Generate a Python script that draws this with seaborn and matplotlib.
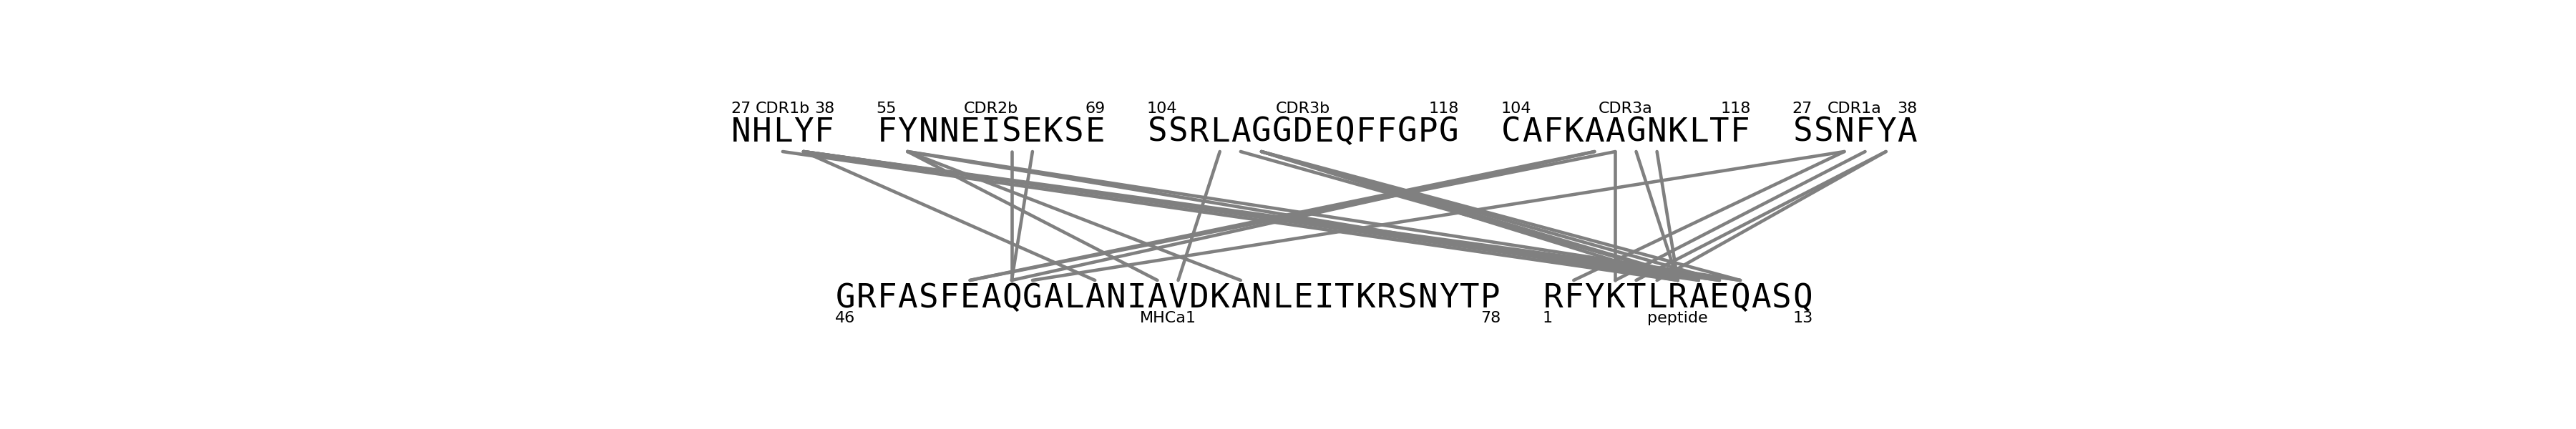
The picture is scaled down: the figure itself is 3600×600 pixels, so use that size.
import numpy as np
import pandas as pd
import seaborn as sns
import matplotlib
matplotlib.use("Agg")
import matplotlib.pyplot as plt

# sequence segments: (name, sequence, start residue, end residue, column offset)
top_names = ["CDR1b", "CDR2b", "CDR3b", "CDR3a", "CDR1a"]
top_seqs = ["NHLYF", "FYNNEISEKSE", "SSRLAGGDEQFFGPG", "CAFKAAGNKLTF", "SSNFYA"]
top_start = [27, 55, 104, 104, 27]
top_end = [38, 69, 118, 118, 38]
top_offset = [0, 7, 20, 37, 51]

bot_names = ["MHCa1", "peptide"]
bot_seqs = ["GRFASFEAQGALANIAVDKANLEITKRSNYTP", "RFYKTLRAEQASQ"]
bot_start = [46, 1]
bot_end = [78, 13]
bot_offset = [5, 39]

# contacts: top column -> bottom column
link_top = [2, 3, 3, 3, 3, 3, 8, 8, 8, 8, 13, 14, 23, 24, 25, 25, 25, 25,
            41, 41, 42, 42, 43, 44, 53, 53, 54, 55, 55]
link_bot = [45, 17, 46, 47, 48, 47, 20, 24, 48, 45, 13, 13, 21, 46, 45, 46, 47, 48,
            11, 13, 11, 42, 45, 45, 14, 40, 42, 43, 44]

Y_TOP, Y_BOT = 185, 418
Y_TOP_LINK, Y_BOT_LINK = 212, 392
Y_TOP_LAB, Y_BOT_LAB = 152, 445

sns.set_theme(style="white")
fig = plt.figure(figsize=(36, 6), dpi=100)
ax = fig.add_axes([0, 0, 1, 1])

rows = []
for k, (t, b) in enumerate(zip(link_top, link_bot)):
    rows.append({"x": t, "y": Y_TOP_LINK, "link": k})
    rows.append({"x": b, "y": Y_BOT_LINK, "link": k})
df = pd.DataFrame(rows)
sns.lineplot(data=df, x="x", y="y", units="link", estimator=None, sort=False,
             color="gray", linewidth=3.3, ax=ax, legend=False)

mono = "DejaVu Sans Mono"


def draw_segments(names, seqs, starts, ends, offsets, y_seq, y_lab):
    for name, seq, s, e, off in zip(names, seqs, starts, ends, offsets):
        for i, ch in enumerate(seq):
            ax.text(off + i, y_seq, ch, family=mono, fontsize=33,
                    ha="center", va="center", color="black")
        left = off - 0.5
        right = off + len(seq) - 0.5
        ax.text(left, y_lab, str(s), fontsize=16, ha="left", va="center", color="black")
        ax.text(right, y_lab, str(e), fontsize=16, ha="right", va="center", color="black")
        ax.text((left + right) / 2, y_lab, name, fontsize=16, ha="center",
                va="center", color="black")


draw_segments(top_names, top_seqs, top_start, top_end, top_offset, Y_TOP, Y_TOP_LAB)
draw_segments(bot_names, bot_seqs, bot_start, bot_end, bot_offset, Y_BOT, Y_BOT_LAB)

ax.set_xlim(-35.6, 88.15)
ax.set_ylim(600, 0)
ax.axis("off")
fig.savefig("out.png", dpi=100)
